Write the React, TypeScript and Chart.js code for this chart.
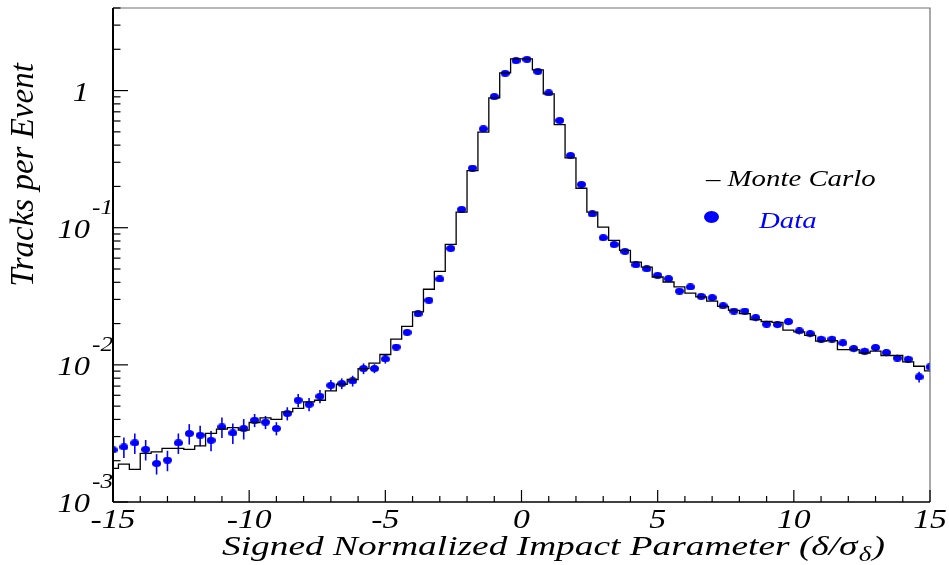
import React, { useEffect, useRef } from "react";
import { Chart, registerables } from "chart.js";

Chart.register(...registerables);

// Bin centres of the 0.4-wide bins (x axis)
const binCenters = [
  -15.0, -14.6, -14.2, -13.8, -13.4, -13.0, -12.6, -12.2, -11.8, -11.4,
  -11.0, -10.6, -10.2, -9.8, -9.4, -9.0, -8.6, -8.2, -7.8, -7.4,
  -7.0, -6.6, -6.2, -5.8, -5.4, -5.0, -4.6, -4.2, -3.8, -3.4,
  -3.0, -2.6, -2.2, -1.8, -1.4, -1.0, -0.6, -0.2, 0.2, 0.6,
  1.0, 1.4, 1.8, 2.2, 2.6, 3.0, 3.4, 3.8, 4.2, 4.6,
  5.0, 5.4, 5.8, 6.2, 6.6, 7.0, 7.4, 7.8, 8.2, 8.6,
  9.0, 9.4, 9.8, 10.2, 10.6, 11.0, 11.4, 11.8, 12.2, 12.6,
  13.0, 13.4, 13.8, 14.2, 14.6, 15.0,
];

// Monte Carlo histogram (tracks per event)
const mcValues = [
  0.00176, 0.00189, 0.00173, 0.00226, 0.00232, 0.00246, 0.00246, 0.00242, 0.00257, 0.00316,
  0.0034, 0.00349, 0.00334, 0.0038, 0.0041, 0.004, 0.00454, 0.00481, 0.00537, 0.00552,
  0.00645, 0.00722, 0.00782, 0.0094, 0.0103, 0.0119, 0.0154, 0.0191, 0.0243, 0.0356,
  0.0481, 0.0756, 0.13, 0.261, 0.497, 0.885, 1.345, 1.7, 1.7, 1.415,
  0.946, 0.565, 0.323, 0.194, 0.13, 0.101, 0.0808, 0.0684, 0.0562, 0.0516,
  0.0437, 0.0402, 0.037, 0.0334, 0.0313, 0.0292, 0.0267, 0.025, 0.0236, 0.0214,
  0.0207, 0.0204, 0.0179, 0.0174, 0.0164, 0.0149, 0.015, 0.0129, 0.0129, 0.0122,
  0.0126, 0.0117, 0.0117, 0.0105, 0.00977, 0.00903,
];

// Data points (tracks per event)
const dataValues = [
  0.0024, 0.00252, 0.0027, 0.00242, 0.00191, 0.00202, 0.0027, 0.00316, 0.00307, 0.00282,
  0.00353, 0.00319, 0.00344, 0.00395, 0.00382, 0.00344, 0.00442, 0.00552, 0.00516, 0.0059,
  0.0071, 0.00731, 0.00764, 0.0094, 0.0094, 0.01104, 0.01349, 0.01726, 0.0236, 0.0296,
  0.0423, 0.0707, 0.136, 0.272, 0.526, 0.904, 1.337, 1.654, 1.69, 1.38,
  0.962, 0.605, 0.336, 0.207, 0.126, 0.0845, 0.0755, 0.0672, 0.0537, 0.0502,
  0.045, 0.0425, 0.0345, 0.037, 0.0316, 0.0309, 0.027, 0.0247, 0.0247, 0.0221,
  0.0198, 0.0197, 0.0207, 0.0177, 0.0169, 0.0154, 0.0154, 0.01445, 0.01315, 0.0126,
  0.01337, 0.0123, 0.0112, 0.011, 0.00817, 0.00966,
];

// Relative statistical error of each data point
const dataRelErr = [
  0.17, 0.17, 0.17, 0.17, 0.17, 0.17, 0.17, 0.17, 0.17, 0.17,
  0.17, 0.17, 0.17, 0.11, 0.11, 0.11, 0.11, 0.11, 0.11, 0.11,
  0.09, 0.09, 0.09, 0.09, 0.075, 0.075, 0.05, 0.05, 0.05, 0.05,
  0.05, 0.02, 0.02, 0.02, 0.02, 0.02, 0.02, 0.02, 0.02, 0.02,
  0.02, 0.02, 0.02, 0.02, 0.02, 0.04, 0.04, 0.04, 0.04, 0.04,
  0.04, 0.04, 0.04, 0.04, 0.04, 0.04, 0.04, 0.04, 0.04, 0.06,
  0.06, 0.06, 0.06, 0.06, 0.06, 0.06, 0.06, 0.06, 0.06, 0.06,
  0.06, 0.06, 0.06, 0.06, 0.09, 0.08,
];

const xMajorTicks = [-15, -10, -5, 0, 5, 10, 15];
const xMajorLabels = ["-15", "-10", "-5", "0", "5", "10", "15"];
const yDecades = [1, 0.1, 0.01, 0.001];
const yDecadeBase = ["1", "10", "10", "10"];
const yDecadeExp = ["", "-1", "-2", "-3"];
const X_MIN = -15;
const X_MAX = 15;
const Y_MIN = 0.001;
const Y_MAX = 4;

const xTitle = "Signed Normalized Impact Parameter (δ/σ";
const xTitleSub = "δ";
const xTitleEnd = ")";
const yTitle = "Tracks per Event";
const legendMC = "– Monte Carlo";
const legendData = "Data";

const SERIF = '"Liberation Serif", "Times New Roman", Times, serif';
const BLUE = "#0000ff";

function makeEllipse(w: number, h: number, color: string) {
  const c = document.createElement("canvas");
  c.width = w;
  c.height = h;
  const g = c.getContext("2d")!;
  g.fillStyle = color;
  g.beginPath();
  g.ellipse(w / 2, h / 2, w / 2, h / 2, 0, 0, Math.PI * 2);
  g.fill();
  return c;
}

function stretchText(
  ctx: CanvasRenderingContext2D,
  text: string,
  x: number,
  y: number,
  font: string,
  color: string,
  align: CanvasTextAlign,
  sx: number
) {
  ctx.save();
  ctx.translate(x, y);
  ctx.scale(sx, 1);
  ctx.font = font;
  ctx.fillStyle = color;
  ctx.textAlign = align;
  ctx.textBaseline = "alphabetic";
  ctx.fillText(text, 0, 0);
  ctx.restore();
}

const errorBarPlugin = {
  id: "errorBars",
  beforeDatasetDraw(chart: any, args: any) {
    if (args.index !== 1) return;
    const { ctx, chartArea: a } = chart;
    const xs = chart.scales.x;
    const ys = chart.scales.y;
    ctx.save();
    ctx.beginPath();
    ctx.rect(a.left, a.top, a.right - a.left, a.bottom - a.top);
    ctx.clip();
    ctx.strokeStyle = BLUE;
    ctx.lineWidth = 1.6;
    for (let i = 0; i < dataValues.length; i++) {
      const v = dataValues[i];
      const e = v * dataRelErr[i];
      const px = xs.getPixelForValue(binCenters[i]);
      ctx.beginPath();
      ctx.moveTo(px, ys.getPixelForValue(v + e));
      ctx.lineTo(px, ys.getPixelForValue(v - e));
      ctx.stroke();
    }
    ctx.restore();
  },
};

const framePlugin = {
  id: "rootFrame",
  afterDraw(chart: any) {
    const { ctx, chartArea: a } = chart;
    const xs = chart.scales.x;
    const ys = chart.scales.y;
    ctx.save();
    // top & right frame
    ctx.strokeStyle = "#707070";
    ctx.lineWidth = 1.2;
    ctx.beginPath();
    ctx.moveTo(a.left, a.top);
    ctx.lineTo(a.right, a.top);
    ctx.lineTo(a.right, a.bottom);
    ctx.stroke();
    // left axis
    ctx.strokeStyle = "#000";
    ctx.lineWidth = 2;
    ctx.beginPath();
    ctx.moveTo(a.left, a.top);
    ctx.lineTo(a.left, a.bottom);
    ctx.stroke();
    // bottom axis
    ctx.lineWidth = 1.5;
    ctx.beginPath();
    ctx.moveTo(a.left, a.bottom);
    ctx.lineTo(a.right, a.bottom);
    ctx.stroke();

    // x ticks
    ctx.lineWidth = 1.2;
    for (let v = X_MIN; v <= X_MAX; v += 1) {
      const px = xs.getPixelForValue(v);
      const len = v % 5 === 0 ? 12 : 6;
      ctx.beginPath();
      ctx.moveTo(px, a.bottom);
      ctx.lineTo(px, a.bottom - len);
      ctx.stroke();
    }
    // y ticks
    for (const d of yDecades) {
      for (let m = 1; m <= 9; m++) {
        const v = d * m;
        if (v > Y_MAX * 1.0001 || v < Y_MIN * 0.9999) continue;
        const py = ys.getPixelForValue(v);
        const len = m === 1 ? 15 : 7.5;
        ctx.beginPath();
        ctx.moveTo(a.left, py);
        ctx.lineTo(a.left + len, py);
        ctx.stroke();
      }
    }

    // x tick labels
    const tickFont = `italic 27px ${SERIF}`;
    xMajorTicks.forEach((v, i) => {
      const px = xs.getPixelForValue(v);
      stretchText(ctx, xMajorLabels[i], px, a.bottom + 26, tickFont, "#000", "center", 1.25);
    });

    // y tick labels
    const expFont = `italic 21px ${SERIF}`;
    yDecades.forEach((d, i) => {
      const py = ys.getPixelForValue(d);
      if (yDecadeExp[i] === "") {
        stretchText(ctx, yDecadeBase[i], a.left - 24, py + 10, tickFont, "#000", "right", 1.2);
      } else {
        stretchText(ctx, yDecadeBase[i], a.left - 23, py + 10, tickFont, "#000", "right", 1.2);
        stretchText(ctx, yDecadeExp[i], a.left - 21, py - 14, expFont, "#000", "left", 1.2);
      }
    });

    // x title, fitted to the span it occupies in the figure (x 222 .. 885)
    const tFont = `italic 28px ${SERIF}`;
    const subFont = `italic 20px ${SERIF}`;
    ctx.font = tFont;
    const n1 = ctx.measureText(xTitle).width;
    const n3 = ctx.measureText(xTitleEnd).width;
    ctx.font = subFont;
    const n2 = ctx.measureText(xTitleSub).width;
    const sx = (885 - 222) / (n1 + n2 + n3 + 2);
    const tx = 222;
    const ty = 555;
    stretchText(ctx, xTitle, tx, ty, tFont, "#000", "left", sx);
    stretchText(ctx, xTitleSub, tx + (n1 + 1) * sx, ty + 6, subFont, "#000", "left", sx);
    stretchText(ctx, xTitleEnd, tx + (n1 + n2 + 2) * sx, ty, tFont, "#000", "left", sx);

    // y title (rotated)
    ctx.save();
    ctx.translate(33, 175);
    ctx.rotate(-Math.PI / 2);
    ctx.font = `italic 33px ${SERIF}`;
    ctx.fillStyle = "#000";
    ctx.textAlign = "center";
    ctx.textBaseline = "alphabetic";
    ctx.fillText(yTitle, 0, 0);
    ctx.restore();

    // legend
    const lFont = `italic 24px ${SERIF}`;
    stretchText(ctx, legendMC, 706, 186, lFont, "#000", "left", 1.2);
    ctx.fillStyle = BLUE;
    ctx.beginPath();
    ctx.ellipse(711.5, 217, 7.5, 6, 0, 0, Math.PI * 2);
    ctx.fill();
    stretchText(ctx, legendData, 759, 228, lFont, BLUE, "left", 1.2);

    ctx.restore();
  },
};

export default function App() {
  const ref = useRef<HTMLCanvasElement | null>(null);
  useEffect(() => {
    if (!ref.current) return;
    const marker = makeEllipse(9, 7, BLUE);
    const chart = new Chart(ref.current, {
      type: "line",
      data: {
        datasets: [
          {
            label: "Monte Carlo",
            data: binCenters.map((x, i) => ({ x, y: mcValues[i] })),
            borderColor: "#000",
            borderWidth: 1.3,
            stepped: "middle",
            pointRadius: 0,
            fill: false,
            clip: 0,
          } as any,
          {
            label: "Data",
            data: binCenters.map((x, i) => ({ x, y: dataValues[i] })),
            showLine: false,
            pointStyle: marker,
            pointRadius: 4,
            backgroundColor: BLUE,
            borderColor: BLUE,
            clip: 0,
          } as any,
        ],
      },
      options: {
        animation: false,
        responsive: false,
        devicePixelRatio: 1,
        events: [],
        layout: { padding: { left: 113, right: 19, top: 8, bottom: 63 } },
        plugins: { legend: { display: false }, tooltip: { enabled: false } },
        scales: {
          x: { type: "linear", min: X_MIN, max: X_MAX, display: false },
          y: { type: "logarithmic", min: Y_MIN, max: Y_MAX, display: false },
        },
      },
      plugins: [errorBarPlugin, framePlugin],
    });
    return () => chart.destroy();
  }, []);
  return (
    <div style={{ position: "absolute", left: 0, top: 0, width: 949, height: 565, background: "#fff" }}>
      <canvas ref={ref} width={949} height={565} style={{ width: 949, height: 565 }} />
    </div>
  );
}
